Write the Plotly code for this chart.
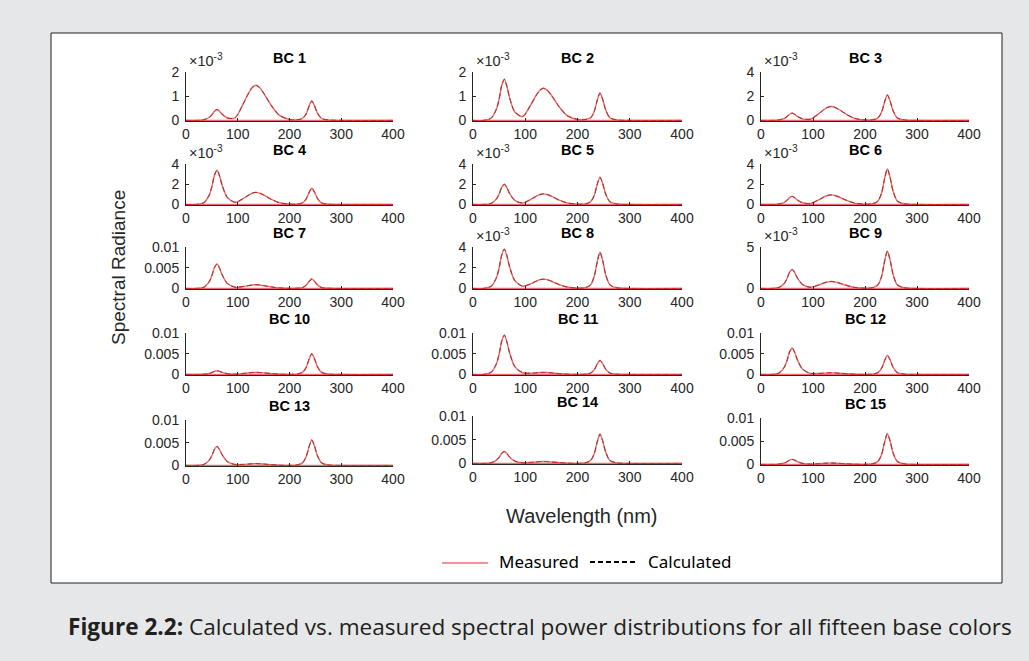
import plotly.graph_objects as go

# Wavelength sample points (nm)
WAVELENGTH = [0, 20, 35, 45, 50, 55, 60, 65, 70, 80, 95, 110, 120, 128, 135, 142,
              150, 165, 180, 200, 215, 225, 232, 238, 243, 248, 254, 262, 275, 300, 400]

# Spectral radiance values, in units of 1e-3
BC1 = [0, 0, 0.03, 0.13, 0.23, 0.38, 0.45, 0.37, 0.25, 0.1, 0.11, 0.66, 1.09, 1.36, 1.45, 1.36, 1.13, 0.61, 0.22, 0.04, 0.03, 0.08, 0.26, 0.6, 0.8, 0.62, 0.3, 0.08, 0.02, 0, 0]
BC2 = [0, 0, 0.1, 0.48, 0.88, 1.45, 1.7, 1.39, 0.94, 0.35, 0.16, 0.62, 1.0, 1.25, 1.33, 1.25, 1.04, 0.56, 0.2, 0.04, 0.04, 0.11, 0.37, 0.85, 1.13, 0.88, 0.43, 0.11, 0.02, 0, 0]
BC3 = [0, 0, 0.04, 0.17, 0.31, 0.51, 0.6, 0.49, 0.33, 0.13, 0.1, 0.52, 0.86, 1.08, 1.15, 1.08, 0.9, 0.48, 0.17, 0.03, 0.05, 0.21, 0.69, 1.58, 2.1, 1.64, 0.8, 0.21, 0.04, 0, 0]
BC4 = [0, 0, 0.2, 0.95, 1.77, 2.89, 3.4, 2.79, 1.87, 0.69, 0.22, 0.57, 0.9, 1.13, 1.2, 1.13, 0.94, 0.5, 0.18, 0.04, 0.04, 0.16, 0.53, 1.2, 1.6, 1.25, 0.61, 0.16, 0.03, 0, 0]
BC5 = [0, 0, 0.12, 0.56, 1.04, 1.7, 2.0, 1.64, 1.1, 0.41, 0.15, 0.49, 0.79, 0.99, 1.05, 0.99, 0.82, 0.44, 0.16, 0.03, 0.06, 0.27, 0.89, 2.03, 2.7, 2.11, 1.03, 0.27, 0.05, 0, 0]
BC6 = [0, 0, 0.05, 0.22, 0.42, 0.68, 0.8, 0.66, 0.44, 0.17, 0.1, 0.44, 0.71, 0.89, 0.95, 0.89, 0.74, 0.4, 0.14, 0.03, 0.08, 0.35, 1.16, 2.63, 3.5, 2.73, 1.33, 0.35, 0.07, 0, 0]
BC7 = [0, 0, 0.35, 1.65, 3.07, 5.02, 5.9, 4.84, 3.25, 1.19, 0.3, 0.46, 0.68, 0.85, 0.9, 0.85, 0.7, 0.38, 0.14, 0.03, 0.06, 0.23, 0.76, 1.73, 2.3, 1.79, 0.87, 0.23, 0.05, 0, 0]
BC8 = [0, 0, 0.23, 1.06, 1.98, 3.23, 3.8, 3.12, 2.09, 0.77, 0.22, 0.44, 0.68, 0.85, 0.9, 0.85, 0.7, 0.38, 0.14, 0.03, 0.08, 0.35, 1.16, 2.63, 3.5, 2.73, 1.33, 0.35, 0.07, 0, 0]
BC9 = [0, 0, 0.14, 0.64, 1.2, 1.96, 2.3, 1.89, 1.27, 0.47, 0.15, 0.4, 0.64, 0.8, 0.85, 0.8, 0.66, 0.36, 0.13, 0.03, 0.1, 0.45, 1.49, 3.38, 4.5, 3.51, 1.71, 0.45, 0.09, 0, 0]
BC10 = [0, 0, 0.05, 0.25, 0.47, 0.77, 0.9, 0.74, 0.5, 0.19, 0.07, 0.23, 0.38, 0.47, 0.5, 0.47, 0.39, 0.21, 0.08, 0.02, 0.1, 0.5, 1.65, 3.75, 5.0, 3.9, 1.9, 0.5, 0.1, 0, 0]
BC11 = [0, 0, 0.57, 2.66, 4.94, 8.08, 9.5, 7.79, 5.23, 1.91, 0.42, 0.32, 0.38, 0.47, 0.5, 0.47, 0.39, 0.21, 0.08, 0.02, 0.07, 0.34, 1.12, 2.55, 3.4, 2.65, 1.29, 0.34, 0.07, 0, 0]
BC12 = [0, 0, 0.38, 1.79, 3.33, 5.44, 6.4, 5.25, 3.52, 1.28, 0.28, 0.24, 0.3, 0.38, 0.4, 0.38, 0.31, 0.17, 0.06, 0.01, 0.1, 0.46, 1.52, 3.45, 4.6, 3.59, 1.75, 0.46, 0.09, 0, 0]
BC13 = [0, 0, 0.25, 1.18, 2.18, 3.57, 4.2, 3.44, 2.31, 0.84, 0.2, 0.22, 0.3, 0.38, 0.4, 0.38, 0.31, 0.17, 0.06, 0.01, 0.12, 0.56, 1.85, 4.2, 5.6, 4.37, 2.13, 0.56, 0.11, 0, 0]
BC14 = [0, 0, 0.15, 0.7, 1.3, 2.13, 2.5, 2.05, 1.38, 0.5, 0.13, 0.21, 0.3, 0.38, 0.4, 0.38, 0.31, 0.17, 0.06, 0.01, 0.13, 0.62, 2.05, 4.65, 6.2, 4.84, 2.36, 0.62, 0.12, 0, 0]
BC15 = [0, 0, 0.07, 0.31, 0.57, 0.94, 1.1, 0.9, 0.61, 0.22, 0.07, 0.15, 0.23, 0.28, 0.3, 0.28, 0.23, 0.13, 0.05, 0.01, 0.14, 0.66, 2.18, 4.95, 6.6, 5.15, 2.51, 0.66, 0.13, 0, 0]

MEASURED = [BC1, BC2, BC3, BC4, BC5, BC6, BC7, BC8, BC9, BC10, BC11, BC12, BC13, BC14, BC15]
CALCULATED = [BC1, BC2, BC3, BC4, BC5, BC6, BC7, BC8, BC9, BC10, BC11, BC12, BC13, BC14, BC15]
TITLES = ["BC %d" % i for i in range(1, 16)]
UNIT = 1e-3
SERIES_NAMES = ["Measured", "Calculated"]

# y-axis top and tick style per panel
Y_TOPS = [2e-3, 2e-3, 4e-3, 4e-3, 4e-3, 4e-3, 0.01, 4e-3, 5e-3, 0.01, 0.01, 0.01, 0.01, 0.01, 0.01]
Y_TICKS = [
    ([0, 1e-3, 2e-3], ["0", "1", "2"], True),
    ([0, 1e-3, 2e-3], ["0", "1", "2"], True),
    ([0, 2e-3, 4e-3], ["0", "2", "4"], True),
    ([0, 2e-3, 4e-3], ["0", "2", "4"], True),
    ([0, 2e-3, 4e-3], ["0", "2", "4"], True),
    ([0, 2e-3, 4e-3], ["0", "2", "4"], True),
    ([0, 0.005, 0.01], ["0", "0.005", "0.01"], False),
    ([0, 2e-3, 4e-3], ["0", "2", "4"], True),
    ([0, 5e-3], ["0", "5"], True),
    ([0, 0.005, 0.01], ["0", "0.005", "0.01"], False),
    ([0, 0.005, 0.01], ["0", "0.005", "0.01"], False),
    ([0, 0.005, 0.01], ["0", "0.005", "0.01"], False),
    ([0, 0.005, 0.01], ["0", "0.005", "0.01"], False),
    ([0, 0.005, 0.01], ["0", "0.005", "0.01"], False),
    ([0, 0.005, 0.01], ["0", "0.005", "0.01"], False),
]
X_TICKS = [0, 100, 200, 300, 400]

W, H = 1029, 661
COL_X = [(186, 393), (473, 682), (761, 969)]
ROW_Y = [(72, 121), (164, 205), (247, 289), (333, 375), (420, 466)]
CELL_Y_OVERRIDE = {13: (416, 464), 14: (418, 465)}

AX_COLOR = "#262626"
RED = "rgba(232,45,45,0.7)"
LEGEND_RED = "rgba(240,120,120,0.8)"
CALC_COLOR = "#222222"
DASH = "5px,3px"
FONT = "Liberation Sans, Arial, sans-serif"

fig = go.Figure()
layout = {}
annotations = []

for k in range(15):
    r, c = divmod(k, 3)
    x0, x1 = COL_X[c]
    t, b = CELL_Y_OVERRIDE.get(k, ROW_Y[r])
    sfx = "" if k == 0 else str(k + 1)
    xa, ya = "x" + sfx, "y" + sfx
    top = Y_TOPS[k]
    vals, texts, expo = Y_TICKS[k]
    layout["xaxis" + sfx] = dict(
        domain=[x0 / W, x1 / W], anchor=ya, range=[0, 400], tickvals=X_TICKS,
        showline=True, linecolor=AX_COLOR, linewidth=1, ticks="inside", ticklen=3,
        tickcolor=AX_COLOR, showgrid=False, zeroline=False, mirror=False, automargin=False,
        tickfont=dict(family=FONT, size=14, color=AX_COLOR), fixedrange=True)
    layout["yaxis" + sfx] = dict(
        domain=[1 - b / H, 1 - t / H], anchor=xa, range=[-0.012 * top, top],
        tickvals=vals, ticktext=texts, showline=True, linecolor=AX_COLOR, linewidth=1,
        ticks="inside", ticklen=3, tickcolor=AX_COLOR, showgrid=False, zeroline=False,
        automargin=False, ticklabelstandoff=3,
        tickfont=dict(family=FONT, size=14, color=AX_COLOR), fixedrange=True)
    ymeas = [v * UNIT for v in MEASURED[k]]
    ycalc = [v * UNIT for v in CALCULATED[k]]
    fig.add_trace(go.Scatter(x=WAVELENGTH, y=ycalc, mode="lines", name=SERIES_NAMES[1],
                             line=dict(color=CALC_COLOR, width=1, dash=DASH, shape="spline", smoothing=0.8),
                             xaxis=xa, yaxis=ya, showlegend=False))
    fig.add_trace(go.Scatter(x=[WAVELENGTH[0], WAVELENGTH[-1]], y=[0, 0], mode="lines",
                             line=dict(color=RED, width=1.5), xaxis=xa, yaxis=ya,
                             showlegend=False, hoverinfo="skip"))
    fig.add_trace(go.Scatter(x=WAVELENGTH, y=ymeas, mode="lines", name=SERIES_NAMES[0],
                             line=dict(color=RED, width=1.4, shape="spline", smoothing=0.8),
                             xaxis=xa, yaxis=ya, showlegend=False))
    annotations.append(dict(text="<b>%s</b>" % TITLES[k], x=(x0 + x1) / 2 / W, y=1 - (t - 14) / H,
                            xref="paper", yref="paper", showarrow=False, xanchor="center",
                            yanchor="middle", font=dict(family=FONT, size=14.5, color="black")))
    if expo:
        annotations.append(dict(text="×10<sup>-3</sup>", x=(x0 + 1) / W, y=1 - (t - 1) / H,
                                xref="paper", yref="paper", showarrow=False, xanchor="left",
                                yanchor="bottom", font=dict(family=FONT, size=14.5, color=AX_COLOR)))

annotations.append(dict(text="Spectral Radiance", x=118 / W, y=1 - 268 / H, xref="paper", yref="paper",
                        showarrow=False, textangle=-90, xanchor="center", yanchor="middle",
                        font=dict(family=FONT, size=19, color=AX_COLOR)))
annotations.append(dict(text="Wavelength (nm)", x=582 / W, y=1 - 516 / H, xref="paper", yref="paper",
                        showarrow=False, xanchor="center", yanchor="middle",
                        font=dict(family=FONT, size=20, color=AX_COLOR)))
annotations.append(dict(text="<b>Figure 2.2:</b> Calculated vs. measured spectral power distributions for all fifteen base colors",
                        x=540 / W, y=1 - 626 / H, xref="paper", yref="paper", showarrow=False,
                        xanchor="center", yanchor="middle",
                        font=dict(family="Open Sans, sans-serif", size=22.6, color="#231f20")))

# manual legend
LEG_Y = 561
annotations.append(dict(text=SERIES_NAMES[0], x=497 / W, y=1 - LEG_Y / H, xref="paper", yref="paper",
                        showarrow=False, xanchor="left", yanchor="middle",
                        font=dict(family="Noto Sans, sans-serif", size=17, color="black")))
annotations.append(dict(text=SERIES_NAMES[1], x=646 / W, y=1 - LEG_Y / H, xref="paper", yref="paper",
                        showarrow=False, xanchor="left", yanchor="middle",
                        font=dict(family="Noto Sans, sans-serif", size=17, color="black")))

shapes = [dict(type="rect", xref="paper", yref="paper", x0=51 / W, x1=1002 / W,
               y0=1 - 583 / H, y1=1 - 33 / H, fillcolor="white",
               line=dict(color="#231f20", width=1), layer="below"),
          dict(type="line", xref="paper", yref="paper", x0=442 / W, x1=488 / W,
               y0=1 - (LEG_Y + 2) / H, y1=1 - (LEG_Y + 2) / H, line=dict(color=LEGEND_RED, width=2)),
          dict(type="line", xref="paper", yref="paper", x0=590 / W, x1=638 / W,
               y0=1 - (LEG_Y + 1) / H, y1=1 - (LEG_Y + 1) / H, line=dict(color="black", width=2, dash=DASH))]

fig.update_layout(
    template="none",
    width=W, height=H, margin=dict(l=0, r=0, t=0, b=0, pad=0, autoexpand=False),
    paper_bgcolor="#e6e7e8", plot_bgcolor="rgba(0,0,0,0)",
    annotations=annotations, shapes=shapes, showlegend=False,
    **layout)

fig.write_html("out.html")
